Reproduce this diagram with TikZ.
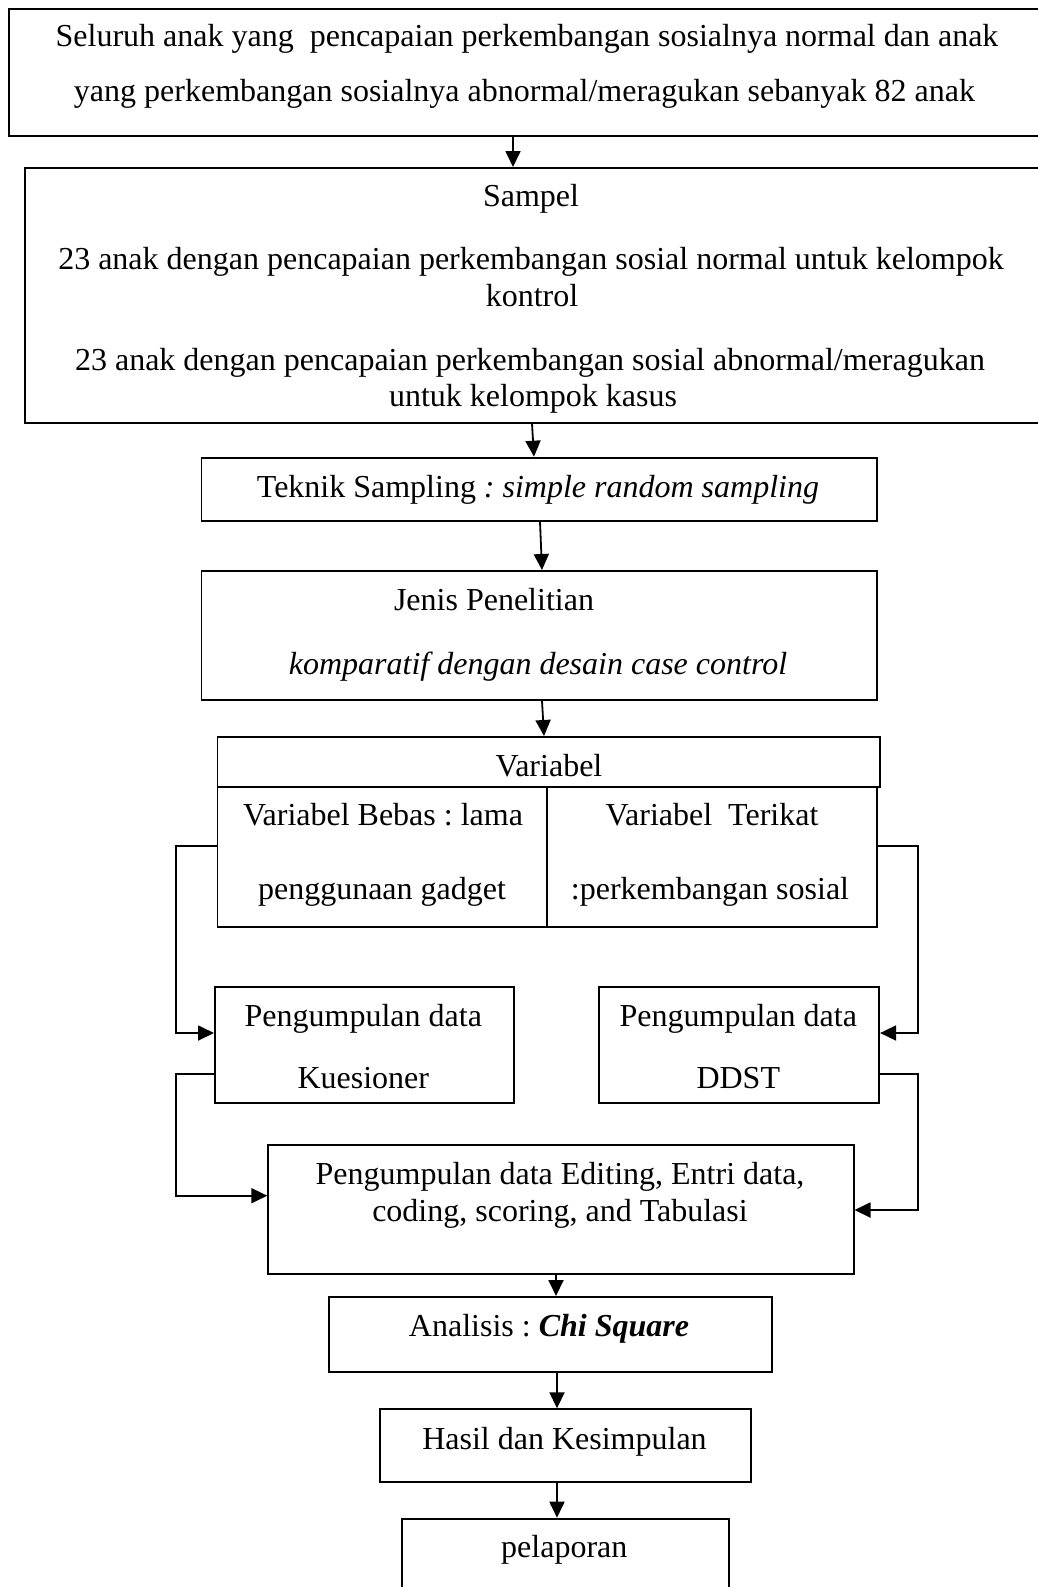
\documentclass[tikz,border=0pt]{standalone}
\usepackage{fontspec}
\setmainfont{Liberation Serif}
\usetikzlibrary{arrows.meta}
\frenchspacing

\begin{document}
\begin{tikzpicture}[x=1pt, y=-1pt,
  frame/.style={draw, line width=1.8pt, inner sep=0pt, anchor=north west},
  txt/.style={inner sep=0pt, anchor=base, font=\fontsize{32}{36.8}\selectfont},
  link/.style={line width=1.8pt},
  arr/.style={link, -{Triangle[length=16pt, width=15pt]}}]

\useasboundingbox (0,0) rectangle (1038,1587);
\clip (0,0) rectangle (1038,1587);
\fill[white] (0,0) rectangle (1038,1587);

% boxes: frame of width x height, placed by the top-left corner
\node[frame, minimum width=1038pt, minimum height=127pt]   (b1)  at (8,8) {};
\node[frame, minimum width=1016pt, minimum height=255pt]   (b2)  at (24,167) {};
\node[frame, minimum width=675.4pt, minimum height=63.3pt] (b3)  at (200.6,456.7) {};
\node[frame, minimum width=675.4pt, minimum height=129pt]  (b4)  at (200.6,570) {};
\node[frame, minimum width=662.5pt, minimum height=49.7pt] (b5h) at (216.5,736) {};
\node[frame, minimum width=329.5pt, minimum height=140.3pt] (b5l) at (216.5,785.7) {};
\node[frame, minimum width=330pt, minimum height=140.3pt]  (b5r) at (546,785.7) {};
\node[frame, minimum width=298.7pt, minimum height=116pt]  (b6)  at (214,986) {};
\node[frame, minimum width=280pt, minimum height=116pt]    (b7)  at (598.3,986) {};
\node[frame, minimum width=585.4pt, minimum height=128.7pt] (b8) at (267.3,1144) {};
\node[frame, minimum width=443pt, minimum height=74.7pt]   (b9)  at (327.7,1296) {};
\node[frame, minimum width=371pt, minimum height=72.7pt]   (b10) at (379,1408.3) {};
\node[frame, minimum width=326.7pt, minimum height=90pt]   (b11) at (401,1517.7) {};

% texts
\node[txt] (t1a) at (527,46.7) {Seluruh anak yang\ \ pencapaian perkembangan sosialnya normal dan anak};
\node[txt] (t1b) at (524.5,101.7) {yang perkembangan sosialnya abnormal/meragukan sebanyak 82 anak};
\node[txt] (t2a) at (531,206.7) {Sampel};
\node[txt] (t2b) at (531,269.3) {23 anak dengan pencapaian perkembangan sosial normal untuk kelompok};
\node[txt] (t2c) at (532,306) {kontrol};
\node[txt] (t2d) at (530,370) {23 anak dengan pencapaian perkembangan sosial abnormal/meragukan};
\node[txt] (t2e) at (533,406.7) {untuk kelompok kasus};
\node[txt] (t3)  at (538,497.3) {Teknik Sampling \textit{: simple random sampling}};
\node[txt] (t4a) at (494,610.7) {Jenis Penelitian};
\node[txt] (t4b) at (538,674) {\textit{komparatif dengan desain case control}};
\node[txt] (t5)  at (549,776) {Variabel};
\node[txt] (t5a) at (383,825) {Variabel Bebas : lama};
\node[txt] (t5b) at (382,899.3) {penggunaan gadget};
\node[txt] (t5c) at (712,825) {Variabel\ \ Terikat};
\node[txt] (t5d) at (710,899.3) {:perkembangan sosial};
\node[txt] (t6a) at (363.3,1026.7) {Pengumpulan data};
\node[txt] (t6b) at (363.3,1088) {Kuesioner};
\node[txt] (t7a) at (738.3,1026.7) {Pengumpulan data};
\node[txt] (t7b) at (738.3,1088) {DDST};
\node[txt] (t8a) at (560,1184) {Pengumpulan data Editing, Entri data,};
\node[txt] (t8b) at (560,1221.7) {coding, scoring, and Tabulasi};
\node[txt] (t9)  at (549,1336.7) {Analisis : \textbf{\textit{Chi Square}}};
\node[txt] (t10) at (564.5,1449.3) {Hasil dan Kesimpulan};
\node[txt] (t11) at (564.3,1557) {pelaporan};

% main flow
\draw[arr] (b1.south -| 513,0) -- (b2.north -| 513,0);
\draw[arr] (b2.south -| 532,0) -- (b3.north -| 534,0);
\draw[arr] (b3.south -| 540,0) -- (b4.north -| 542,0);
\draw[arr] (b4.south -| 542,0) -- (b5h.north -| 544,0);
\draw[arr] (b8.south -| 556,0) -- (b9.north -| 556,0);
\draw[arr] (b9.south -| 557,0) -- (b10.north -| 557,0);
\draw[arr] (b10.south -| 557,0) -- (b11.north -| 557,0);

% side loops
\coordinate (lv1) at (176,846);
\coordinate (lv2) at (176,1074);
\coordinate (rv1) at (918,846);
\coordinate (rv2) at (918,1074);
\draw[arr] (b5l.west |- lv1) -- (lv1) |- (b6.west |- 0,1033);
\draw[arr] (b6.west |- lv2) -- (lv2) |- (b8.west |- 0,1195.7);
\draw[arr] (b5r.east |- rv1) -- (rv1) |- (b7.east |- 0,1033);
\draw[arr] (b7.east |- rv2) -- (rv2) |- (b8.east |- 0,1210);
\end{tikzpicture}
\end{document}
